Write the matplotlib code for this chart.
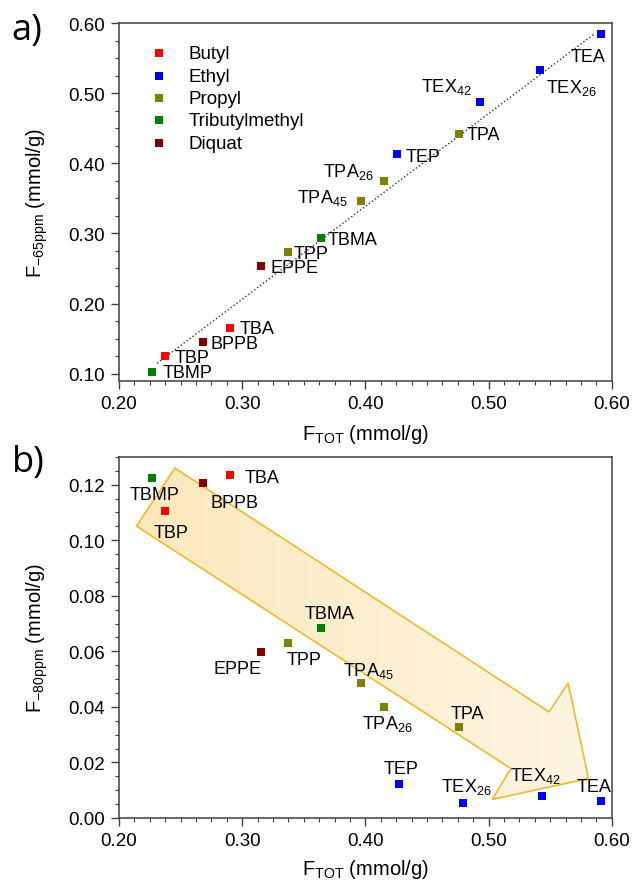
import matplotlib.pyplot as plt
from matplotlib.patches import Polygon
from matplotlib.ticker import MultipleLocator
from matplotlib.colors import LinearSegmentedColormap
import numpy as np

plt.rcParams['font.family'] = ['Liberation Sans', 'DejaVu Sans']
plt.rcParams['mathtext.fontset'] = 'custom'
plt.rcParams['mathtext.rm'] = 'Liberation Sans'
plt.rcParams['mathtext.it'] = 'Liberation Sans:italic'

# colours per family
fam_names = ['Butyl', 'Ethyl', 'Propyl', 'Tributylmethyl', 'Diquat']
fam_colors = ['#ff0000', '#0000ff', '#808000', '#008000', '#800000']

# panel a) F-65ppm vs FTOT
names_a = ['TEA', 'TEX$_{26}$', 'TEX$_{42}$', 'TPA', 'TEP', 'TPA$_{26}$', 'TPA$_{45}$',
           'TBMA', 'TPP', 'EPPE', 'TBA', 'BPPB', 'TBP', 'TBMP']
fam_a = [1, 1, 1, 2, 1, 2, 2, 3, 2, 4, 0, 4, 0, 3]
xa = [0.591, 0.542, 0.493, 0.476, 0.426, 0.415, 0.396,
      0.364, 0.337, 0.315, 0.290, 0.268, 0.237, 0.227]
ya = [0.585, 0.533, 0.488, 0.442, 0.4135, 0.3745, 0.346,
      0.294, 0.273, 0.2537, 0.165, 0.145, 0.125, 0.102]

# linear trend drawn in a) (slope, intercept, x range)
fit_slope = 1.324
fit_icpt = -0.191
fit_range = [0.231, 0.586]

# panel b) F-80ppm vs FTOT
names_b = ['TBMP', 'BPPB', 'TBA', 'TBP', 'TBMA', 'TPP', 'EPPE', 'TPA$_{45}$',
           'TPA$_{26}$', 'TPA', 'TEP', 'TEX$_{26}$', 'TEX$_{42}$', 'TEA']
fam_b = [3, 4, 0, 0, 3, 2, 4, 2, 2, 2, 1, 1, 1, 1]
xb = [0.227, 0.268, 0.290, 0.237, 0.364, 0.3375, 0.315, 0.3965,
      0.415, 0.476, 0.427, 0.479, 0.543, 0.591]
yb = [0.1223, 0.1205, 0.1236, 0.1105, 0.0684, 0.0631, 0.0598, 0.0486,
      0.0401, 0.0326, 0.0121, 0.0055, 0.0080, 0.0060]

# label offsets in pixels (dx, dy down), horizontal alignment
off_a = [(-30, 23, 'left'), (6, 17, 'left'), (-8, -16, 'right'), (8, 1, 'left'),
         (8, 3, 'left'), (-10, -10, 'right'), (-13, -4, 'right'), (7, 2, 'left'),
         (6, 1, 'left'), (10, 2, 'left'), (10, 0, 'left'), (8, 1, 'left'),
         (10, 1, 'left'), (10, 0, 'left')]
off_b = [(2, 16, 'center'), (8, 19, 'left'), (15, 3, 'left'), (-11, 21, 'left'),
         (8, -15, 'center'), (-2, 17, 'left'), (1, 17, 'right'), (-18, -13, 'left'),
         (-22, 16, 'left'), (-8, -14, 'left'), (-15, -16, 'left'), (-22, -17, 'left'),
         (-32, -21, 'left'), (-24, -15, 'left')]

# trend arrow outline in panel b
arrow_x = [0.2142, 0.2454, 0.549, 0.5645, 0.581, 0.503, 0.518]
arrow_y = [0.1051, 0.1260, 0.0382, 0.0486, 0.0142, 0.0067, 0.0178]

fig = plt.figure(figsize=(6.41, 8.87), dpi=100)
ax1 = fig.add_axes([0.1856, 0.5693, 0.769, 0.4036])
ax2 = fig.add_axes([0.1856, 0.0767, 0.769, 0.407])

px = 0.72  # points per pixel


def style(ax, ymaj, ymin):
    ax.set_xlim(0.2, 0.6)
    ax.xaxis.set_major_locator(MultipleLocator(0.1))
    ax.xaxis.set_minor_locator(MultipleLocator(0.0125))
    ax.yaxis.set_major_locator(MultipleLocator(ymaj))
    ax.yaxis.set_minor_locator(MultipleLocator(ymin))
    ax.tick_params(which='both', direction='out', top=False, right=False,
                   color='#404040', labelsize=13.5, pad=4)
    ax.tick_params(which='major', length=6, width=1)
    ax.tick_params(which='minor', length=3, width=0.8)
    ax.xaxis.set_major_formatter(plt.FuncFormatter(lambda v, p: f'{v:.2f}'))
    ax.yaxis.set_major_formatter(plt.FuncFormatter(lambda v, p: f'{v:.2f}'))
    for s in ax.spines.values():
        s.set_color('#404040')
        s.set_linewidth(1.1)


def draw(ax, xs, ys, fams, names, offs):
    for x, y, f, n, (dx, dy, ha) in zip(xs, ys, fams, names, offs):
        ax.scatter(x, y, marker='s', s=36, color=fam_colors[f], zorder=3, linewidths=0)
        ax.annotate(n, (x, y), xytext=(dx * px, -dy * px), textcoords='offset points',
                    ha=ha, va='center', fontsize=13, zorder=4)


# a)
style(ax1, 0.1, 0.025)
ax1.set_ylim(0.0895, 0.6)
xl = np.linspace(fit_range[0], fit_range[1], 50)
ax1.plot(xl, fit_slope * xl + fit_icpt, ls=':', color='#333333', lw=1.0, zorder=2)
draw(ax1, xa, ya, fam_a, names_a, off_a)
for c, n in zip(fam_colors, fam_names):
    ax1.scatter([], [], marker='s', s=30, color=c, label=n, linewidths=0)
ax1.legend(loc='upper left', bbox_to_anchor=(0.02, 0.97), frameon=False, fontsize=13.5,
           handletextpad=0.6, labelspacing=0.28, borderaxespad=0.2)
ax1.set_xlabel(r'F$_{\mathrm{TOT}}$ (mmol/g)', fontsize=14.5, labelpad=7)
ax1.set_ylabel(r'F$_{\mathrm{-65ppm}}$ (mmol/g)', fontsize=14.5, labelpad=13)

# b)
style(ax2, 0.02, 0.005)
poly = Polygon(list(zip(arrow_x, arrow_y)), closed=True, facecolor='none',
               edgecolor='#f5b72a', lw=1.2, zorder=2)
ax2.add_patch(poly)
# soft fill fading along the arrow
grad = np.repeat(np.linspace(0, 1, 256).reshape(1, -1), 2, axis=0)
cmap = LinearSegmentedColormap.from_list('arr', ['#fce8bd', '#fef5e2'])
im = ax2.imshow(grad, extent=[min(arrow_x), max(arrow_x), min(arrow_y), max(arrow_y)],
                cmap=cmap, aspect='auto', zorder=1, interpolation='bicubic')
im.set_clip_path(poly)
ax2.set_xlim(0.2, 0.6)
ax2.set_ylim(0, 0.13)
draw(ax2, xb, yb, fam_b, names_b, off_b)
ax2.set_xlabel(r'F$_{\mathrm{TOT}}$ (mmol/g)', fontsize=14.5, labelpad=6)
ax2.set_ylabel(r'F$_{\mathrm{-80ppm}}$ (mmol/g)', fontsize=14.5, labelpad=13)

fig.text(0.018, 0.965, 'a)', fontsize=26, family=['Open Sans', 'DejaVu Sans'], va='center')
fig.text(0.018, 0.478, 'b)', fontsize=26, family=['Open Sans', 'DejaVu Sans'], va='center')

fig.savefig('out.png', dpi=100)
